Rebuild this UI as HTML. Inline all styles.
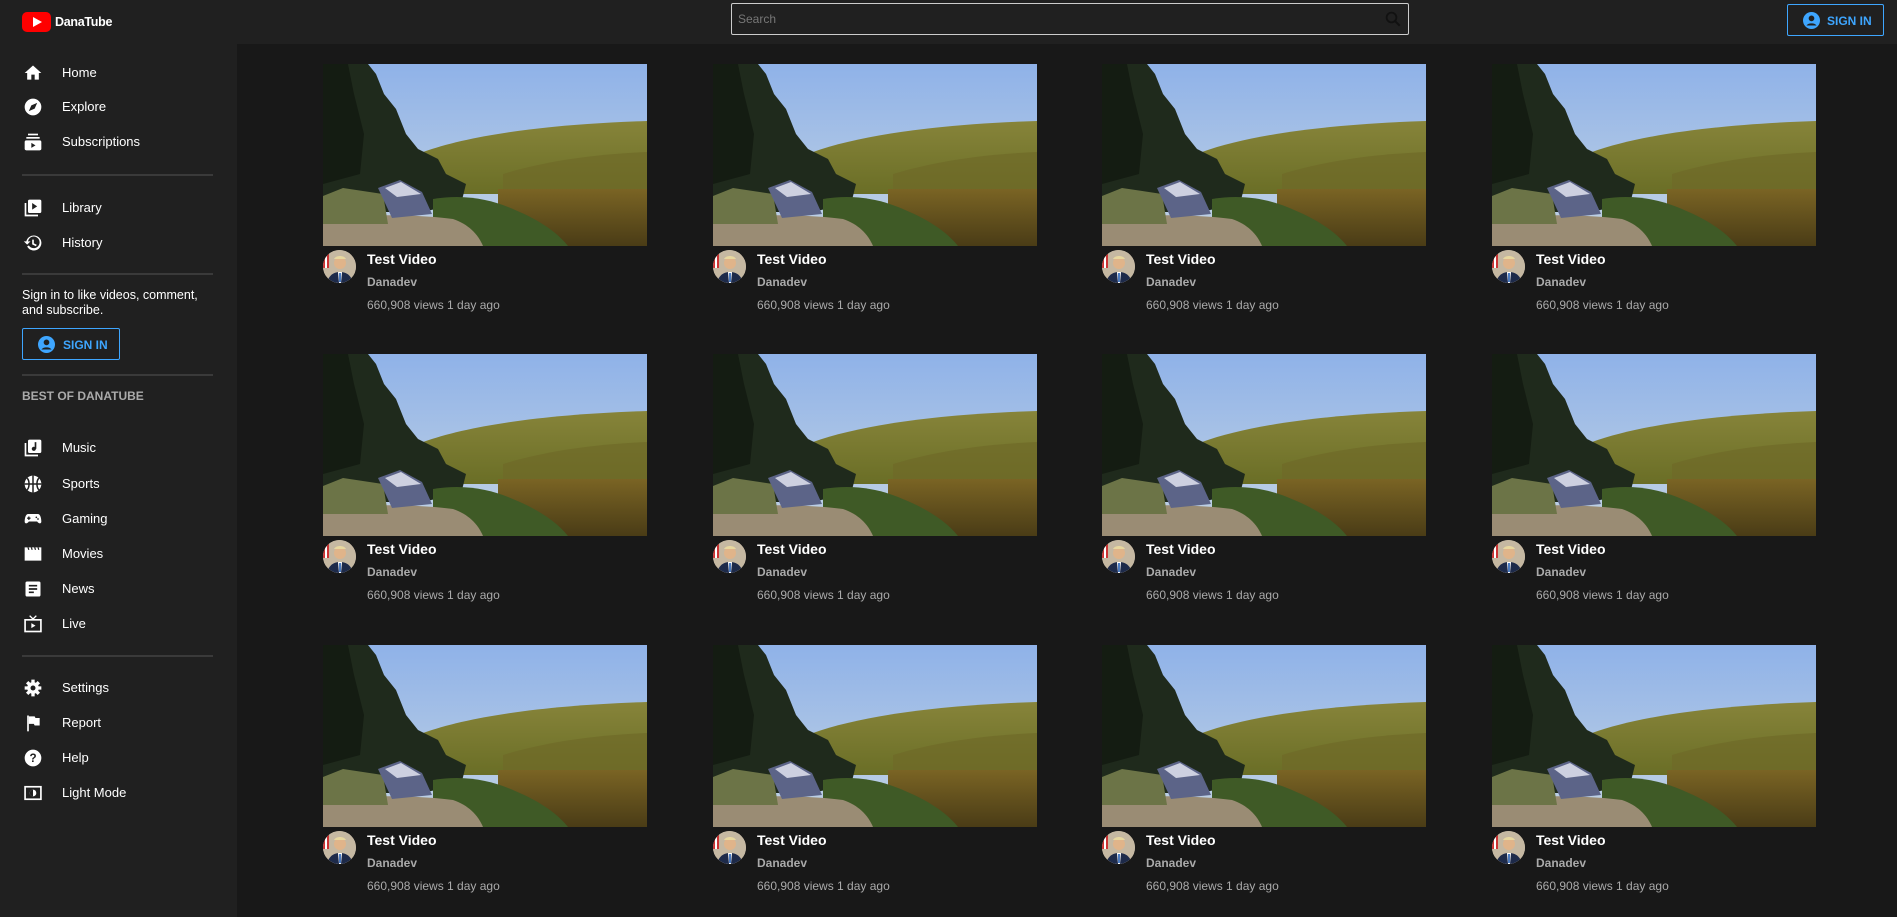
<!DOCTYPE html>
<html><head><meta charset="utf-8">
<style>
*{margin:0;padding:0;box-sizing:border-box}
body{width:1897px;height:917px;overflow:hidden;background:#181818;font-family:"Liberation Sans",sans-serif;color:#fff;position:relative}
#header{position:absolute;left:0;top:0;width:1897px;height:44px;background:#202020}
#sidebar{position:absolute;left:0;top:44px;width:237px;height:873px;background:#202020}
.abs{position:absolute}
.item{position:absolute;left:0;width:237px;height:34px}
.item svg{position:absolute;left:23px;top:7px;width:20px;height:20px}
.item span{position:absolute;left:62px;top:9px;font-size:13px;color:#fff}
.div{position:absolute;left:22px;width:191px;height:2px;background:#3a3a3a}
.card{position:absolute;width:324px;height:260px}
.thumb{position:absolute;left:0;top:0;width:324px;height:182px;overflow:hidden}
.av{position:absolute;left:0;top:186px;width:33px;height:33px;border-radius:50%;overflow:hidden;background:#c8bfb0}
.title{position:absolute;left:44px;top:187px;font-size:14px;font-weight:bold;color:#fff}
.chan{position:absolute;left:44px;top:211px;font-size:12px;font-weight:bold;color:#aaa}
.views{position:absolute;left:44px;top:234px;font-size:12px;color:#aaa}
</style></head><body>
<div id="header">
  <div class="abs" style="left:22px;top:12px;width:100px;height:20px">
    <div class="abs" style="left:0;top:0;width:29px;height:20px;background:#f00;border-radius:5px"></div>
    <div class="abs" style="left:11px;top:5px;width:0;height:0;border-left:9px solid #fff;border-top:5px solid transparent;border-bottom:5px solid transparent"></div>
    <span class="abs" style="left:33px;top:3px;font-size:12.5px;font-weight:bold;letter-spacing:-0.3px">DanaTube</span>
  </div>
  <div class="abs" style="left:731px;top:3px;width:678px;height:32px;border:1px solid #ccc;border-radius:2px;background:#202020">
    <span class="abs" style="left:6px;top:8px;font-size:12px;color:#777">Search</span>
    <svg class="abs" style="left:652px;top:6px" width="18" height="18" viewBox="0 0 24 24"><circle cx="10" cy="10" r="6.5" fill="none" stroke="#111" stroke-width="2.4"/><line x1="14.5" y1="14.5" x2="21" y2="21" stroke="#111" stroke-width="2.6"/></svg>
  </div>
  <div class="abs" style="left:1787px;top:4px;width:97px;height:32px;border:1px solid #3ea6ff;border-radius:2px">
    <svg class="abs" style="left:15px;top:7px" width="17" height="17" viewBox="0 0 24 24"><circle cx="12" cy="12" r="12" fill="#3ea6ff"/><circle cx="12" cy="9" r="4" fill="#202020"/><path d="M5 19c2-4 12-4 14 0" fill="#202020"/></svg>
    <span class="abs" style="left:39px;top:9px;font-size:12px;font-weight:bold;color:#3ea6ff">SIGN IN</span>
  </div>
</div>
<div id="sidebar"></div>
<div id="grid"></div>

<svg width="0" height="0" style="position:absolute">
<defs>
<linearGradient id="sky" x1="0" y1="0" x2="0" y2="1"><stop offset="0" stop-color="#8fb2e8"/><stop offset="1" stop-color="#c4d4e4"/></linearGradient>
<linearGradient id="hill" x1="0" y1="0" x2="0" y2="1"><stop offset="0" stop-color="#87843a"/><stop offset="1" stop-color="#6a6e26"/></linearGradient>
<linearGradient id="lake" x1="0" y1="0" x2="0" y2="1"><stop offset="0" stop-color="#7a6424"/><stop offset="1" stop-color="#4a3c16"/></linearGradient>
</defs></svg>

<script>
const sb=document.getElementById('sidebar');
const icons={
home:'<path d="M10 20v-6h4v6h5v-8h3L12 3 2 12h3v8z" fill="#fff"/>',
explore:'<circle cx="12" cy="12" r="10" fill="#fff"/><path d="M7 17l3-7 7-3-3 7z" fill="#202020"/>',
subs:'<rect x="6" y="2" width="12" height="2" fill="#fff"/><rect x="4" y="6" width="16" height="2" fill="#fff"/><rect x="2" y="10" width="20" height="12" rx="2" fill="#fff"/><path d="M10 13v6l5-3z" fill="#202020"/>',
library:'<path d="M2 6h2v14h14v2H2z" fill="#fff"/><rect x="6" y="2" width="16" height="16" rx="2" fill="#fff"/><path d="M11 6v8l6-4z" fill="#202020"/>',
history:'<path d="M13 3a9 9 0 1 1-8 13l2-1a7 7 0 1 0 -1-5h3l-4 4-4-4h3a9 9 0 0 1 9-7z" fill="#fff"/><path d="M12 8v5l4 2" stroke="#fff" stroke-width="2" fill="none"/>',
music:'<path d="M2 6h2v14h14v2H2z" fill="#fff"/><rect x="6" y="2" width="16" height="16" rx="2" fill="#fff"/><circle cx="13" cy="13" r="2.5" fill="#202020"/><rect x="14" y="5" width="2" height="8" fill="#202020"/>',
sports:'<circle cx="12" cy="12" r="10" fill="#fff"/><path d="M12 2v20M2 12h20M5 5c3 3 3 11 0 14M19 5c-3 3-3 11 0 14" stroke="#202020" stroke-width="1.8" fill="none"/>',
gaming:'<path d="M6 6h12c3 0 4 6 4 9s-3 3-5 0H7c-2 3-5 3-5 0s1-9 4-9z" fill="#fff"/><path d="M7 9v4M5 11h4" stroke="#202020" stroke-width="1.6"/><circle cx="16" cy="10" r="1" fill="#202020"/><circle cx="18" cy="12" r="1" fill="#202020"/>',
movies:'<path d="M2 4h20v16H2z" fill="#fff"/><path d="M6 4l1 3M10 4l1 3M14 4l1 3M18 4l1 3" stroke="#202020" stroke-width="1.5"/>',
news:'<rect x="3" y="3" width="18" height="18" rx="2" fill="#fff"/><path d="M7 8h10M7 12h10M7 16h6" stroke="#202020" stroke-width="2"/>',
live:'<rect x="2.5" y="7" width="19" height="14" fill="none" stroke="#fff" stroke-width="2"/><path d="M8 2l4 4 4-4" stroke="#fff" stroke-width="1.6" fill="none"/><path d="M10 11v6l5-3z" fill="#fff"/>',
settings:'<circle cx="12" cy="12" r="7" fill="#fff"/><path d="M12 2v20M2 12h20M5 5l14 14M19 5L5 19" stroke="#fff" stroke-width="4"/><circle cx="12" cy="12" r="3" fill="#202020"/>',
report:'<path d="M5 3h2v19H5z" fill="#fff"/><path d="M7 4h7l1 2h5v9h-6l-1-2H7z" fill="#fff"/>',
help:'<circle cx="12" cy="12" r="10" fill="#fff"/><text x="12" y="17" text-anchor="middle" font-size="14" font-weight="bold" fill="#202020" font-family="Liberation Sans">?</text>',
light:'<rect x="2.5" y="4.5" width="19" height="15" fill="none" stroke="#fff" stroke-width="2"/><circle cx="12" cy="12" r="4" fill="#fff"/><path d="M12 8a4 4 0 0 0 0 8z" fill="#202020"/>'
};
const navLabels=['Home','Explore','Subscriptions','Library','History','Music','Sports','Gaming','Movies','News','Live','Settings','Report','Help','Light Mode'];
const navIcons=['home','explore','subs','library','history','music','sports','gaming','movies','news','live','settings','report','help','light'];
const navY=[73,107,142,208,243,448,484,519,554,589,624,688,723,758,793];
navLabels.forEach((l,i)=>{
  const d=document.createElement('div');d.className='item';
  
  
  d.style.top=(navY[i]-44-17)+'px';
  d.innerHTML='<svg viewBox="0 0 24 24">'+icons[navIcons[i]]+'</svg><span>'+l+'</span>';
  sb.appendChild(d);
});
[175,274,375,656].forEach(y=>{
  const d=document.createElement('div');d.className='div';d.style.top=(y-44-1)+'px';
  
  
  sb.appendChild(d);
});
const t=document.createElement('div');t.className='abs';


t.style.cssText='left:22px;top:244px;font-size:12.5px;line-height:15px;width:200px';
t.textContent='Sign in to like videos, comment, and subscribe.';sb.appendChild(t);
const b=document.createElement('div');b.className='abs';


b.style.cssText='left:22px;top:284px;width:98px;height:32px;border:1px solid #3ea6ff;border-radius:2px';
b.innerHTML='<svg class="abs" style="left:15px;top:7px" width="17" height="17" viewBox="0 0 24 24"><circle cx="12" cy="12" r="12" fill="#3ea6ff"/><circle cx="12" cy="9" r="4" fill="#202020"/><path d="M5 19c2-4 12-4 14 0" fill="#202020"/></svg><span class="abs" style="left:40px;top:9px;font-size:12px;font-weight:bold;color:#3ea6ff">SIGN IN</span>';
sb.appendChild(b);
const h=document.createElement('div');h.className='abs';


h.style.cssText='left:22px;top:345px;font-size:12px;font-weight:bold;color:#aaa';
h.textContent='BEST OF DANATUBE';sb.appendChild(h);

const thumbSvg='<svg width="324" height="182" viewBox="0 0 324 182">'+
'<rect width="324" height="182" fill="url(#sky)"/>'+
'<path d="M100 88 C150 70 230 60 324 57 V130 H100z" fill="url(#hill)"/>'+
'<path d="M180 110 C230 95 280 90 324 88 V128 H180z" fill="#6f6a28" opacity="0.7"/>'+
'<rect x="175" y="125" width="149" height="57" fill="url(#lake)"/>'+
'<path d="M0 0h45l8 10 8 20 12 15 10 25 12 15 20 10 8 15 20 10 -5 20 -40 8H0z" fill="#1f2a1c"/>'+
'<path d="M0 0h25l6 30 10 40 -4 40 -37 10z" fill="#141c12"/>'+
'<path d="M110 135c30-5 55 0 75 8 20 8 45 20 60 39H110z" fill="#3f5a26"/>'+
'<path d="M0 155c50-6 100-4 130 0 15 5 25 15 30 27H0z" fill="#9a8c74"/>'+
'<path d="M0 132l20-8 40 6 5 30H0z" fill="#6c7447"/>'+
'<path d="M55 124l22-8 22 12 10 22-40 4z" fill="#5c6488"/><path d="M62 124l16-6 20 12-24 3z" fill="#cdd0e0"/>'+
'</svg>';
const avSvg='<svg width="33" height="33" viewBox="0 0 33 33"><rect width="33" height="33" fill="#c5b8a2"/><rect x="0" y="4" width="6" height="14" fill="#c33"/><rect x="2" y="4" width="2" height="14" fill="#fff"/><circle cx="17" cy="13" r="6" fill="#e0b48a"/><path d="M11 9c2-4 10-4 12 0z" fill="#e8d8a0"/><path d="M4 33c2-9 8-11 13-11s11 2 13 11z" fill="#1d2a4a"/><path d="M15 22h4l-1 11h-2z" fill="#fff"/><path d="M16 23h2l0 9h-2z" fill="#4a7ac0"/></svg>';

const grid=document.getElementById('grid');
const colX=[323,713,1102,1492];
const rowY=[64,354,645];
rowY.forEach((y,r)=>colX.forEach((x,c)=>{
  const d=document.createElement('div');d.className='card';
  
  
  d.style.left=x+'px';d.style.top=y+'px';
  d.innerHTML='<div class="thumb">'+thumbSvg+'</div>'+
   '<div class="av">'+avSvg+'</div>'+
   '<div class="title">Test Video</div>'+
   '<div class="chan">Danadev</div>'+
   '<div class="views">660,908 views 1 day ago</div>';
  grid.appendChild(d);
}));
</script>
</body></html>
